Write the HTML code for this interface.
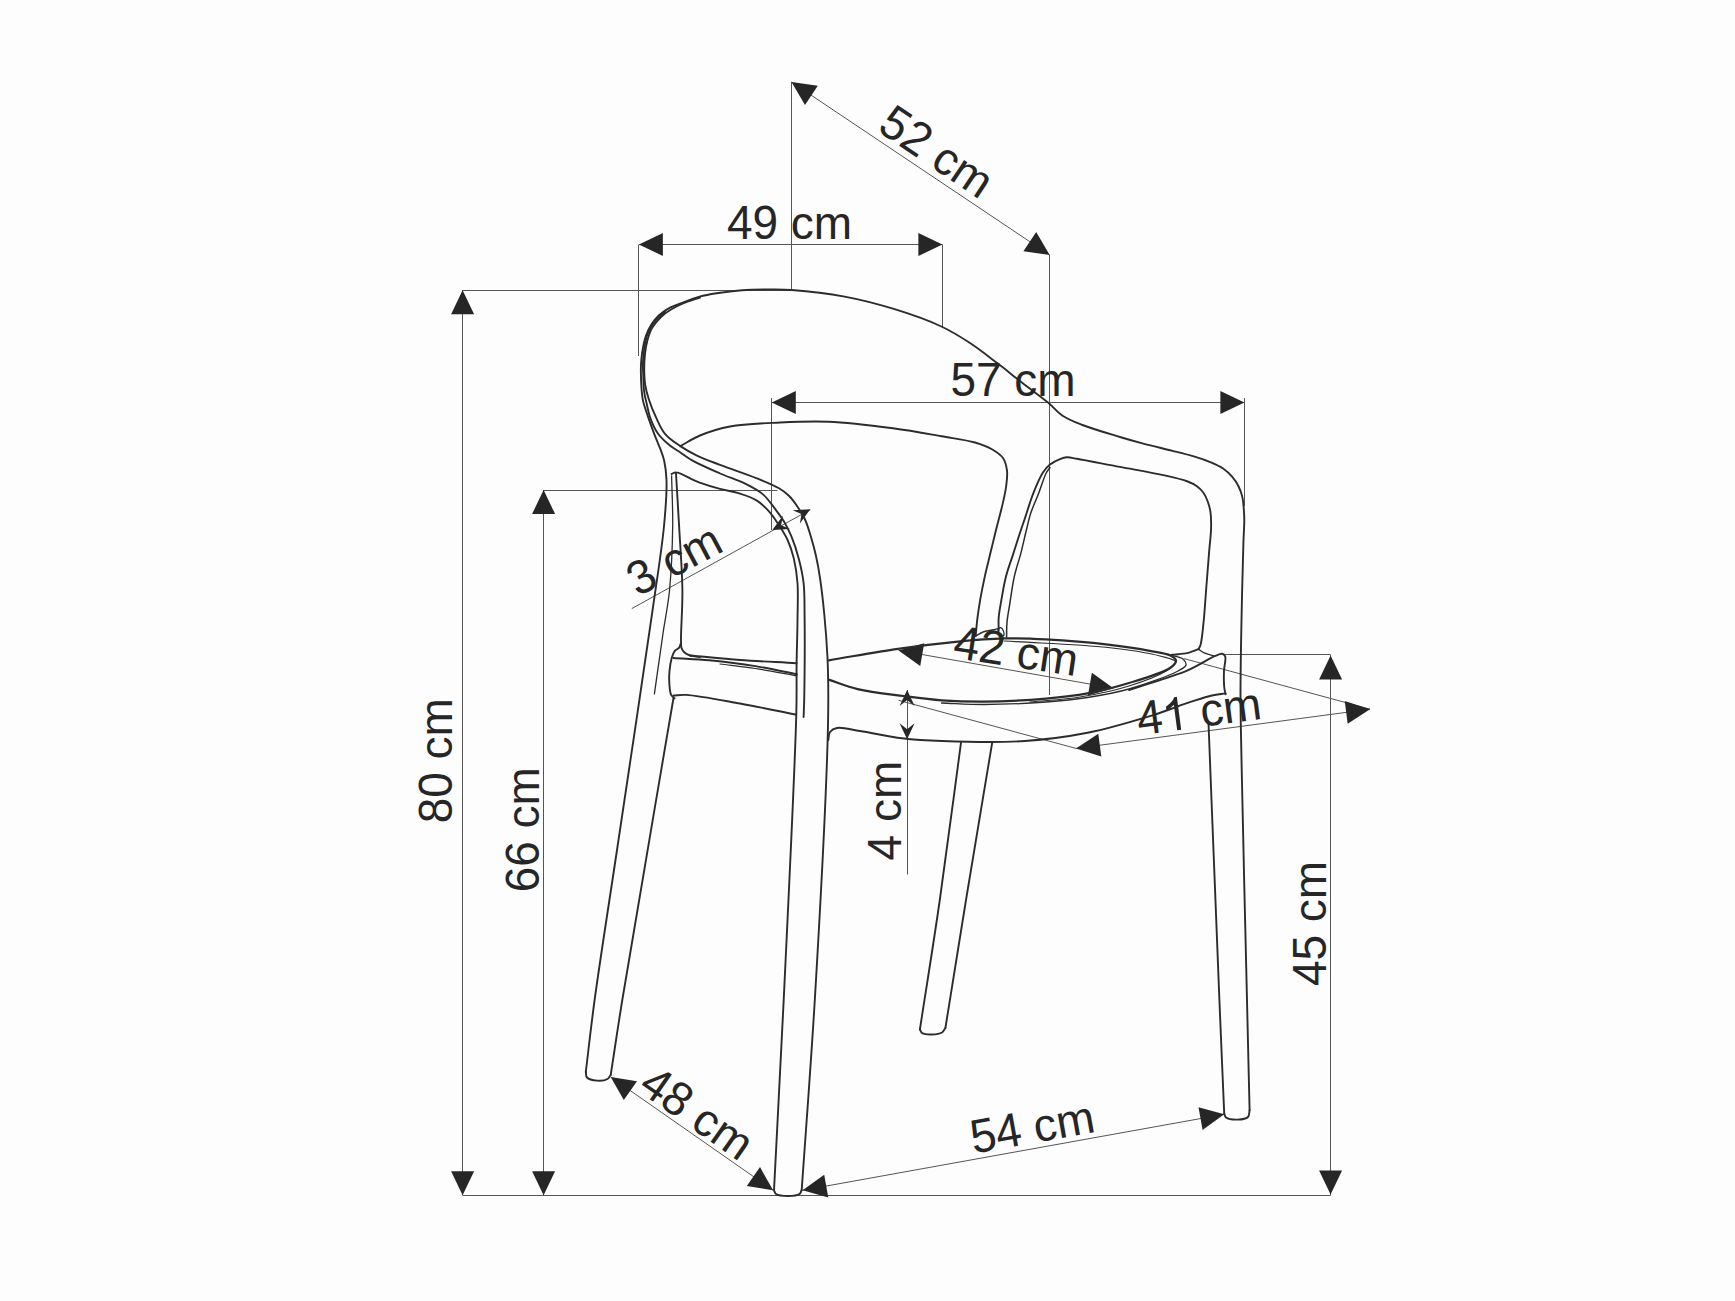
<!DOCTYPE html>
<html><head><meta charset="utf-8"><style>
html,body{margin:0;padding:0;background:#fdfdfd;}
svg{display:block;}
text{font-family:"Liberation Sans",sans-serif;fill:#262626;}
</style></head><body>
<svg width="1735" height="1301" viewBox="0 0 1735 1301">
<rect width="1735" height="1301" fill="#fdfdfd"/>
<line x1="791.5" y1="82" x2="791.5" y2="290" stroke="#555555" stroke-width="1.0"/>
<line x1="1049.5" y1="255" x2="1049.5" y2="695" stroke="#555555" stroke-width="1.0"/>
<line x1="791.5" y1="82" x2="1049.7" y2="255" stroke="#555555" stroke-width="1.0"/>
<path d="M791.5 82 L817.8 85.8 L805 104.9Z" fill="#262626"/>
<path d="M1049.7 255 L1023.4 251.2 L1036.2 232.1Z" fill="#262626"/>
<line x1="638.9" y1="244.5" x2="942.4" y2="244.5" stroke="#555555" stroke-width="1.0"/>
<line x1="638.5" y1="244.5" x2="638.5" y2="356" stroke="#555555" stroke-width="1.0"/>
<line x1="942.5" y1="244.5" x2="942.5" y2="327" stroke="#555555" stroke-width="1.0"/>
<path d="M638.9 244.5 L662.9 233 L662.9 256Z" fill="#262626"/>
<path d="M942.4 244.5 L918.4 256 L918.4 233Z" fill="#262626"/>
<line x1="771.8" y1="402.5" x2="1244.4" y2="402.5" stroke="#555555" stroke-width="1.0"/>
<line x1="771.5" y1="398" x2="771.5" y2="530" stroke="#555555" stroke-width="1.0"/>
<line x1="1244.5" y1="398" x2="1244.5" y2="506" stroke="#555555" stroke-width="1.0"/>
<path d="M771.8 402.4 L795.8 390.9 L795.8 413.9Z" fill="#262626"/>
<path d="M1244.4 402.4 L1220.4 413.9 L1220.4 390.9Z" fill="#262626"/>
<line x1="462.6" y1="290.5" x2="791.5" y2="290.5" stroke="#555555" stroke-width="1.0"/>
<line x1="462.5" y1="290.2" x2="462.5" y2="1195.2" stroke="#555555" stroke-width="1.0"/>
<path d="M462.6 290.2 L474.1 314.2 L451.1 314.2Z" fill="#262626"/>
<path d="M462.6 1195.2 L451.1 1171.2 L474.1 1171.2Z" fill="#262626"/>
<line x1="543.6" y1="490.5" x2="777.5" y2="490.5" stroke="#555555" stroke-width="1.0"/>
<line x1="543.5" y1="490" x2="543.5" y2="1195.2" stroke="#555555" stroke-width="1.0"/>
<path d="M543.6 490 L555.1 514 L532.1 514Z" fill="#262626"/>
<path d="M543.6 1195.2 L532.1 1171.2 L555.1 1171.2Z" fill="#262626"/>
<line x1="462.6" y1="1195.5" x2="1330.6" y2="1195.5" stroke="#555555" stroke-width="1.0"/>
<line x1="1223" y1="654.5" x2="1330.6" y2="654.5" stroke="#555555" stroke-width="1.0"/>
<line x1="1330.5" y1="655" x2="1330.5" y2="1195.2" stroke="#555555" stroke-width="1.0"/>
<path d="M1330.6 655.4 L1342.1 679.4 L1319.1 679.4Z" fill="#262626"/>
<path d="M1330.6 1194.5 L1319.1 1170.5 L1342.1 1170.5Z" fill="#262626"/>
<line x1="1184" y1="658.6" x2="1370" y2="709.2" stroke="#555555" stroke-width="1.0"/>
<line x1="1076" y1="748.4" x2="1370" y2="709.2" stroke="#555555" stroke-width="1.0"/>
<line x1="898.6" y1="700.3" x2="1076" y2="748.4" stroke="#555555" stroke-width="1.0"/>
<path d="M1370 709.2 L1347.7 723.8 L1344.7 701Z" fill="#262626"/>
<path d="M1076 748.4 L1098.3 733.8 L1101.3 756.6Z" fill="#262626"/>
<line x1="898.6" y1="650.4" x2="1113.5" y2="688.2" stroke="#555555" stroke-width="1.0"/>
<path d="M898.6 650.4 L924.2 643.2 L920.2 665.9Z" fill="#262626"/>
<path d="M1113.5 688.2 L1087.9 695.4 L1091.9 672.7Z" fill="#262626"/>
<line x1="907.5" y1="690" x2="907.5" y2="874.5" stroke="#555555" stroke-width="1.0"/>
<path d="M907.1 690.1 L914.6 706.1 L907.1 700.1 L899.6 706.1Z" fill="#262626"/>
<path d="M907.1 739.2 L899.6 723.2 L907.1 729.2 L914.6 723.2Z" fill="#262626"/>
<line x1="631.8" y1="608.6" x2="810.3" y2="509.7" stroke="#555555" stroke-width="1.0"/>
<path d="M772.3 530 L782.9 515.8 L781.1 525.3 L789.9 529.1Z" fill="#262626"/>
<path d="M810.3 509.2 L799.9 523.5 L801.5 514 L792.7 510.3Z" fill="#262626"/>
<line x1="610.7" y1="1076.9" x2="773.1" y2="1190.3" stroke="#555555" stroke-width="1.0"/>
<path d="M610.7 1076.9 L637 1081.2 L623.8 1100.1Z" fill="#262626"/>
<path d="M773.1 1190.3 L746.8 1186 L760 1167.1Z" fill="#262626"/>
<line x1="802.6" y1="1190.3" x2="1224.2" y2="1114.3" stroke="#555555" stroke-width="1.0"/>
<path d="M802.6 1190.3 L824.2 1174.7 L828.3 1197.4Z" fill="#262626"/>
<path d="M1224.2 1114.3 L1202.6 1129.9 L1198.5 1107.2Z" fill="#262626"/>
<path d="M585.8 1072 C588.7 1048 590.8 1028.3 594.6 1000 C600.2 959 609.8 898.3 617 850 C623.7 805 630.4 761 636.5 719.6 C642.1 682 647.5 645.9 652.3 612 C656.6 581.7 661.7 550.3 664 526 C665.7 508.3 666.9 492 666.5 480 C666.2 472.2 665.4 466.3 664.2 460.7 C663.2 456.3 661.9 453.3 660.4 449.2 C658.6 444.4 656.2 439.1 654.2 433.8 C652.1 428.3 650 422.6 648.1 416.9 C646.2 411.1 643.9 405.8 642.7 399.2 C641.3 391.4 641 380 640.9 372.8 C640.8 367.8 640.9 364.2 641.3 360 C641.7 355.8 642.2 351.6 643 347.4 C643.9 343.1 644.9 338.6 646.4 334.7 C647.8 331.1 649.3 327.8 651.4 324.6 C653.5 321.3 656 318.1 659 315.3 C662.2 312.4 666.1 309.8 670 307.7 C674 305.6 678.1 304.3 682.7 302.6 C687.9 300.6 693.9 298.3 699.6 296.7 C705.2 295.2 710.3 294.3 716.5 293.3 C724.1 292.1 733.1 290.9 742 290.3 C751.6 289.6 763.1 289.5 772 289.5 C779.2 289.5 783.5 289.4 791.6 290 C805 291 827.4 293.4 844.6 296.6 C861.2 299.7 877 303.8 893 308.7 C909.3 313.7 927.6 320 941.4 326.5 C952.4 331.7 960.7 336.9 970 343 C979.5 349.2 988.9 356.8 997.9 363.6 C1006.4 370.1 1014.2 376.6 1022.5 383 C1030.9 389.5 1040.7 396.5 1048 402.5 C1053.8 407.3 1057.4 412.3 1063 416 C1068.8 419.8 1074.8 422 1082.4 425 C1092.8 429 1109.1 433.7 1119.9 437 C1128.1 439.5 1133.6 441 1141.5 443.1 C1150.8 445.6 1162.8 448.4 1172.3 450.8 C1180.6 452.9 1188.5 454.8 1195.4 456.9 C1201.1 458.6 1206 460.3 1210.8 462.3 C1215.2 464.2 1219.4 466 1223.1 468.5 C1226.6 470.9 1229.7 473.9 1232.3 476.9 C1234.8 479.8 1236.8 482.9 1238.5 486.2 C1240.2 489.5 1241.4 493.2 1242.3 496.9 C1243.2 500.8 1243.5 505.2 1243.8 509.2 C1244.1 512.9 1244.3 515.7 1244.3 520 C1244.3 526.3 1243.7 533.2 1243.4 543.1 C1242.8 561.2 1242 594.5 1241.5 620 C1241 645.2 1240.5 670.9 1240.5 695 C1240.5 717.4 1241 731.5 1241.5 760 C1242.5 814.8 1245.5 935.4 1247 1000 C1248 1043.7 1248.7 1073.3 1249.6 1110" fill="none" stroke="#2c2c2c" stroke-width="1.9" stroke-linecap="round" stroke-linejoin="round"/>
<path d="M585.8 1072 C586.2 1073.8 585.7 1076.1 587 1077.5 C588.7 1079.4 593.6 1080.3 597 1080.6 C600.4 1080.9 605.2 1080.4 607.5 1079 C609.1 1078.1 609.6 1076.3 610.7 1075" fill="none" stroke="#2c2c2c" stroke-width="1.9" stroke-linecap="round" stroke-linejoin="round"/>
<path d="M610.7 1075 C614.6 1050 616.9 1033.3 622.3 1000 C633.2 933 656.4 798.7 673.5 698" fill="none" stroke="#2c2c2c" stroke-width="1.9" stroke-linecap="round" stroke-linejoin="round"/>
<path d="M665 312 C661.7 315 657.8 317.5 655 321 C652.1 324.5 649.7 328.7 648 333 C646.2 337.4 645.3 342.2 644.5 347 C643.7 351.9 643.2 357.1 643 362 C642.8 366.7 643.1 371.2 643.3 376 C643.5 381.2 643.5 387 644.2 392 C644.8 396.6 646 400.6 647 405 C648 409.4 648.7 413.9 650.4 418.4 C652.3 423.5 654.8 429.3 658.1 433.8 C661.3 438.2 665.6 442 669.6 445.3 C673.3 448.3 677.3 450.4 681.1 453 C684.9 455.6 687.8 458 692.6 460.7 C699.7 464.7 711.1 469.6 720 473.5 C728.4 477.1 737.1 479.7 744.6 483.4 C751.3 486.7 757.8 489.9 763 494.4 C767.9 498.6 771.6 504.4 775.3 509.2 C778.5 513.4 781.4 517.1 784 521.5 C786.7 526.1 789 530.7 791.3 536.2 C794 542.8 796.7 550.7 798.7 558.4 C800.8 566.3 802.6 574.1 803.6 583 C804.8 593.5 804.4 603.6 804.6 617.6 C804.9 639.2 804.5 682.8 804.2 700 C804 707.8 803.8 711.3 803.6 717" fill="none" stroke="#2c2c2c" stroke-width="1.9" stroke-linecap="round" stroke-linejoin="round"/>
<path d="M700 297.5 C694.3 299.5 688.1 301.3 683 303.5 C678.6 305.4 674.7 307.2 671 309.5 C667.4 311.7 664.1 314 661 317 C657.7 320.2 654.3 324.1 652 328 C649.8 331.7 648.7 335.8 647.5 340 C646.3 344.4 645.5 349.3 645 354 C644.5 358.7 644.2 363.1 644.2 368 C644.2 373.4 644.4 379.6 645.2 385 C646 390 647.2 394.2 648.8 399.2 C650.7 405.2 653.7 412.4 656.5 418.4 C659.1 423.9 661.2 429.3 665 433.8 C669 438.6 675 442.5 680.3 446.1 C685.5 449.6 690.5 452.4 696.5 455.3 C703.5 458.7 711.3 461.5 720 464.9 C730.9 469.1 746.2 474.1 756.9 478.4 C765.3 481.8 773.2 484.9 779 488.3 C783.1 490.7 785.9 492.8 788.9 495.7 C792.1 498.8 794.9 502.8 797.5 506.7 C800.2 510.6 802.7 514.4 804.8 519 C807.3 524.3 809.1 530.9 811 537 C812.9 543.2 814.5 549.4 816 556 C817.6 563 818.8 569.7 820 578 C821.6 588.6 823.1 601.9 824.3 614.5 C825.6 627.9 826.7 642.2 827.4 656 C828.1 669.8 828.3 682.3 828.3 697.5 C828.3 716.2 828 732.4 827 760 C825.1 814.1 819.3 924.7 814.8 1000 C810.8 1067 806.1 1126.7 801.7 1190" fill="none" stroke="#2c2c2c" stroke-width="1.9" stroke-linecap="round" stroke-linejoin="round"/>
<path d="M774 1190.3 C774.7 1191.5 774.7 1193.1 776 1194 C778.2 1195.6 784 1196 787.9 1196 C791.8 1196 797.3 1195.6 799.5 1194 C800.9 1193 801 1191.3 801.7 1190" fill="none" stroke="#2c2c2c" stroke-width="1.9" stroke-linecap="round" stroke-linejoin="round"/>
<path d="M671.6 474 C673.1 473.5 674 472.3 676 472.4 C680.7 472.5 691.4 479.6 699 482.4 C706.1 485 713.2 487.1 720 488.9 C726.3 490.6 732.3 491.3 738.4 493.2 C744.6 495.2 751.6 497.3 756.9 500.6 C761.7 503.6 765.5 507.5 769.2 511.6 C772.9 515.7 775.9 520.5 779 525.2 C782.1 530 785.2 534.7 787.6 540 C790.2 545.7 792.2 551.7 793.8 558.4 C795.6 565.9 796.8 573.9 797.5 583 C798.3 594.1 797.6 607.1 797.5 620 C797.4 634 796.8 648.9 796.6 664 C796.4 680.1 796.9 690.4 796.3 713.8 C794.9 770 787.8 914.3 783.7 1000 C780.4 1069.9 777.2 1126.9 774 1190.3" fill="none" stroke="#2c2c2c" stroke-width="1.9" stroke-linecap="round" stroke-linejoin="round"/>
<path d="M676 473.3 C677 490.9 678.1 507.5 679.1 526 C680.2 546.4 682.2 570.4 682.4 590.5 C682.6 608.1 680.8 630.5 681 640 C681.1 643.8 680.8 645.8 681.5 648 C682.1 649.8 683.2 651.3 684.5 652.5 C685.9 653.8 687.8 654.8 690 655.5 C692.8 656.4 696.7 656.5 700 657" fill="none" stroke="#2c2c2c" stroke-width="1.9" stroke-linecap="round" stroke-linejoin="round"/>
<path d="M671.6 476 C672 492.7 672.9 508.3 672.7 526 C672.4 546.1 671.4 571.2 669.5 590.5 C667.9 606.3 665.3 618 663 633.5 C660.3 651.9 657.3 673.7 654.4 693.8" fill="none" stroke="#2c2c2c" stroke-width="1.3" stroke-linecap="round" stroke-linejoin="round"/>
<path d="M680.5 644 C680.1 645.2 680 646.6 679.2 647.7 C678.2 649 675.8 649.6 674.6 651.1 C673.2 652.9 672.5 655.2 671.7 658 C670.6 661.8 669.8 667.4 669.4 671.9 C669 676.2 669.1 680.6 669.4 684.6 C669.7 688.2 669.9 692.5 671.1 694.9 C672 696.6 673.4 697.2 674.6 698.4" fill="none" stroke="#2c2c2c" stroke-width="1.9" stroke-linecap="round" stroke-linejoin="round"/>
<path d="M690 655.5 C706.7 657 722.8 658.7 740 660 C758.3 661.3 777.7 662.1 796.6 663.2" fill="none" stroke="#2c2c2c" stroke-width="1.9" stroke-linecap="round" stroke-linejoin="round"/>
<path d="M673.4 658 C685.3 658.8 696.5 659.1 709.2 660.3 C723.6 661.7 740.4 663.7 755.3 666.1 C769.5 668.4 783 671.5 796.8 674.2" fill="none" stroke="#2c2c2c" stroke-width="1.9" stroke-linecap="round" stroke-linejoin="round"/>
<path d="M720 664 C731.8 665.5 743.1 666.6 755.3 668.5 C768.6 670.5 783 673.4 796.8 675.8" fill="none" stroke="#2c2c2c" stroke-width="1.2" stroke-linecap="round" stroke-linejoin="round"/>
<path d="M673.4 695.5 C677.6 695.3 680.4 694.6 686.1 694.9 C697.9 695.6 721.9 700.3 740 703.5 C758.4 706.8 777.1 710.8 795.6 714.5" fill="none" stroke="#2c2c2c" stroke-width="1.9" stroke-linecap="round" stroke-linejoin="round"/>
<path d="M680.3 446.1 C686.9 442.6 692.6 438.6 700 435.5 C708.8 431.9 718.6 428.6 730 426.5 C744.4 423.8 763.5 423.3 780 422.5 C796.3 421.7 811.1 421 828.4 421.7 C848.4 422.5 873.1 425.6 893 428.2 C910.3 430.5 926.7 433.6 941.4 436.2 C953.6 438.4 965.8 439.8 975 442.5 C981.8 444.5 987.4 446.6 992.3 449.5 C996.5 451.9 1000.5 454.5 1003 458 C1005.4 461.5 1006.4 466.1 1007 470.5 C1007.6 475.3 1006.9 480.6 1006.2 486 C1005.4 492.1 1003.9 498.6 1002.3 505.4 C1000.5 513.1 998 521.9 996 530 C994.1 537.8 992.3 545.4 990.4 553.1 C988.6 560.8 986.6 568.4 984.9 576.1 C983.2 583.8 981.6 591.9 980.3 599.2 C979.2 605.7 978.3 611.5 977.5 617.6 C976.7 623.7 976.3 629.9 975.7 636" fill="none" stroke="#2c2c2c" stroke-width="1.9" stroke-linecap="round" stroke-linejoin="round"/>
<path d="M975.7 636 C978.1 634.7 980.4 633 983 632 C985.8 631 989.2 630.6 992 630 C994.4 629.5 996.5 629 998.7 628.5" fill="none" stroke="#2c2c2c" stroke-width="1.4" stroke-linecap="round" stroke-linejoin="round"/>
<ellipse cx="1001" cy="632" rx="2.6" ry="4.5" transform="rotate(-20 1001 632)" fill="none" stroke="#2c2c2c" stroke-width="1.3"/>
<path d="M998.7 631 C998.7 626.5 998.3 622.4 998.7 617.6 C999.1 611.9 1000.4 605.7 1001.5 599.2 C1002.8 591.9 1004.1 583.7 1006.1 576.1 C1008.1 568.4 1011 560.8 1013.5 553.1 C1016 545.4 1018.7 536.6 1020.9 530 C1022.6 525 1023.7 521.9 1025.4 516.9 C1027.6 510.3 1030.1 501.3 1033.1 493.8 C1036 486.4 1039.7 477.5 1043.1 472.3 C1045.4 468.9 1047.3 466.8 1050 464.6 C1052.9 462.3 1056.9 460.4 1060 459.2 C1062.5 458.2 1064.4 457.5 1066.9 457.3 C1069.9 457.1 1072.4 458 1076.9 458.8 C1086.2 460.4 1105.4 464.2 1119.9 466.9 C1134.7 469.7 1152.2 472.6 1164.6 475.4 C1173.6 477.4 1181.8 479.3 1187.7 481.5 C1191.6 483 1194.3 484.3 1196.9 486.2 C1199.3 487.9 1201.3 489.9 1203.1 492.3 C1205 494.9 1206.5 498.2 1207.7 501.5 C1209 504.9 1209.9 508.3 1210.5 512.3 C1211.2 516.9 1211.2 522.1 1211.1 527.7 C1211 534.6 1209.9 542.3 1209.2 550.8 C1208.4 561.1 1207.4 573.5 1206.5 585 C1205.6 596.6 1204.7 610.3 1203.8 620 C1203.1 627 1202.5 633.4 1201.8 638 C1201.4 640.9 1201.1 643 1200.5 645 C1200 646.6 1199.2 647.8 1198.5 649.2" fill="none" stroke="#2c2c2c" stroke-width="1.9" stroke-linecap="round" stroke-linejoin="round"/>
<path d="M1198.5 649.2 C1195.4 650.3 1192.5 651.8 1189.2 652.6 C1185.7 653.5 1181.3 653.8 1178.2 654.2 C1175.8 654.5 1174.1 654.6 1172 654.8" fill="none" stroke="#2c2c2c" stroke-width="1.9" stroke-linecap="round" stroke-linejoin="round"/>
<path d="M1198.5 649.2 C1200.2 650.3 1201.7 651.7 1203.6 652.6 C1205.8 653.7 1209.2 654.4 1211.2 655.1 C1212.6 655.5 1213.5 655.8 1214.6 656.2" fill="none" stroke="#2c2c2c" stroke-width="1.4" stroke-linecap="round" stroke-linejoin="round"/>
<path d="M1006.6 637 C1006.7 632.1 1006.5 627.5 1007 622.3 C1007.5 616.5 1008.7 610.6 1009.8 603.8 C1011.1 595.5 1012.4 584.9 1014.4 576.1 C1016.2 568 1018.9 560.8 1020.9 553.1 C1022.9 545.4 1024.6 537.1 1026.4 530 C1027.9 523.9 1028.9 518.8 1030.8 513 C1032.9 506.7 1036 500.3 1038.5 493.8 C1041.1 487 1043.8 477.6 1046.2 473 C1047.5 470.5 1048.7 469.3 1050 467.5" fill="none" stroke="#2c2c2c" stroke-width="1.5" stroke-linecap="round" stroke-linejoin="round"/>
<path d="M828.8 660.3 C851.9 656.5 876 652 898 648.8 C918 645.9 937.2 643.6 955.6 641.8 C972.5 640.2 988.9 638.8 1004.5 638.4 C1018.9 638.1 1030.8 638.6 1046 639.4 C1064.6 640.4 1089.4 642.4 1108 644.6 C1123.3 646.4 1138.3 648.6 1149.8 650.8 C1157.9 652.3 1166 653.1 1170.5 655.5 C1173.2 656.9 1175.8 658.6 1176 660.5 C1176.2 662.7 1173.4 665.5 1170 668 C1162.7 673.2 1142.8 678.8 1129 683 C1115.3 687.2 1101.4 690.8 1087.5 693.4 C1073.7 696 1061.3 697.3 1046 698.6 C1027.4 700.2 1002.5 701.5 983.8 701.7 C968.3 701.8 955.2 701.3 941.5 700.3 C928.5 699.3 916.9 697.7 903.7 696 C889.1 694.1 871 692.3 857.6 689.1 C846.9 686.6 838.8 683 829.4 679.9" fill="none" stroke="#2c2c2c" stroke-width="2.2" stroke-linecap="round" stroke-linejoin="round"/>
<path d="M1004.5 641 C1039 643.2 1079.4 644.3 1108 647.5 C1128.4 649.8 1147.7 652.7 1160 656 C1167 657.9 1175.5 659.3 1176 662 C1176.5 664.4 1170.7 668 1166 671 C1157.8 676.1 1142.4 681.8 1129 686 C1114 690.7 1096.5 694.3 1080 697 C1063.5 699.7 1046.7 700.3 1030 702" fill="none" stroke="#2c2c2c" stroke-width="1.2" stroke-linecap="round" stroke-linejoin="round"/>
<path d="M1170.5 655 C1174.7 656.3 1180.4 656.8 1183 659 C1184.8 660.6 1186.4 663.2 1186 665 C1185.5 667.2 1182 668.8 1178 671 C1168.8 676 1144.8 684.5 1129 689 C1114.7 693.1 1101.4 695.3 1087.5 697.5 C1073.7 699.7 1061.2 700.9 1046 702 C1027.4 703.4 1002.5 704.5 983.8 704.5 C968.3 704.5 955.6 703.5 941.5 703" fill="none" stroke="#2c2c2c" stroke-width="1.3" stroke-linecap="round" stroke-linejoin="round"/>
<path d="M1129 690 C1148.3 683.5 1171.4 677.2 1187 670.6 C1198.1 665.9 1208.2 658.9 1214.6 656.2 C1217.8 654.9 1220.3 653.4 1222.2 653.8 C1223.5 654.1 1224.6 655 1225.2 656.4 C1226.3 659.1 1224.2 665.7 1224 670.7 C1223.8 676.1 1223.8 683.3 1224.3 687.7 C1224.6 690.5 1225.2 692.2 1225.6 694.4" fill="none" stroke="#2c2c2c" stroke-width="1.9" stroke-linecap="round" stroke-linejoin="round"/>
<path d="M828.3 740 C828.9 737.3 828.5 734 830 732 C831.5 730 833.9 728.6 837 728 C842.3 726.9 851.2 729.7 860 731 C871.9 732.8 888.1 736.6 902 738.3 C915.5 739.9 926.5 740.5 942.3 741 C965 741.8 999.4 742.7 1025 741 C1047.3 739.5 1066.8 736.9 1087.5 732.8 C1108.4 728.7 1131.2 721.9 1149.8 716.2 C1165.1 711.5 1179.8 705.4 1191.3 701.7 C1199.4 699.1 1205.8 696.9 1212 695.5 C1216.9 694.4 1221 694.1 1225.5 693.4" fill="none" stroke="#2c2c2c" stroke-width="1.9" stroke-linecap="round" stroke-linejoin="round"/>
<path d="M961 742.6 C953.9 795.1 947 850.1 939.8 900 C933.3 945.3 926.5 986.3 919.9 1029.5" fill="none" stroke="#2c2c2c" stroke-width="1.9" stroke-linecap="round" stroke-linejoin="round"/>
<path d="M992.2 742.6 C983.5 795.1 974.1 850.2 966 900 C958.7 944.9 952.3 985.3 945.4 1028" fill="none" stroke="#2c2c2c" stroke-width="1.9" stroke-linecap="round" stroke-linejoin="round"/>
<path d="M919.9 1029.5 C920.6 1030.7 920.8 1032.2 922 1033 C924 1034.3 928.6 1034.6 931.9 1034.5 C935.3 1034.4 939.7 1033.9 942 1032.5 C943.7 1031.4 944.3 1029.5 945.4 1028" fill="none" stroke="#2c2c2c" stroke-width="1.9" stroke-linecap="round" stroke-linejoin="round"/>
<path d="M1208.5 723 C1212.1 815.3 1216.5 927.9 1219.4 1000 C1221.3 1046.1 1222.6 1075.6 1224.2 1113.4" fill="none" stroke="#2c2c2c" stroke-width="1.9" stroke-linecap="round" stroke-linejoin="round"/>
<path d="M1224.2 1113.4 C1224.8 1114.8 1224.7 1116.5 1226 1117.5 C1228.1 1119.1 1233.9 1119.7 1237.6 1119.6 C1241.2 1119.5 1246.1 1119 1248 1117 C1249.6 1115.4 1249.1 1112.3 1249.6 1110" fill="none" stroke="#2c2c2c" stroke-width="1.9" stroke-linecap="round" stroke-linejoin="round"/>
<g transform="translate(789.5 238.7) rotate(0)">
<text x="-62.6" y="0" font-size="46" transform="scale(1 1.04)">49</text>
<text x="1.3" y="0" font-size="46">cm</text>
</g>
<g transform="translate(1013 396) rotate(0)">
<text x="-62.6" y="0" font-size="46" transform="scale(1 1.04)">57</text>
<text x="1.3" y="0" font-size="46">cm</text>
</g>
<g transform="translate(927.9 165) rotate(33.8)">
<text x="-62.6" y="0" font-size="46" transform="scale(1 1.04)">52</text>
<text x="1.3" y="0" font-size="46">cm</text>
</g>
<g transform="translate(451.6 760.7) rotate(-90)">
<text x="-62.6" y="0" font-size="46" transform="scale(1 1.04)">80</text>
<text x="1.3" y="0" font-size="46">cm</text>
</g>
<g transform="translate(539 829.7) rotate(-90)">
<text x="-62.6" y="0" font-size="46" transform="scale(1 1.04)">66</text>
<text x="1.3" y="0" font-size="46">cm</text>
</g>
<g transform="translate(1325.9 923.5) rotate(-90)">
<text x="-62.6" y="0" font-size="46" transform="scale(1 1.04)">45</text>
<text x="1.3" y="0" font-size="46">cm</text>
</g>
<g transform="translate(900.9 810.6) rotate(-90)">
<text x="-49.8" y="0" font-size="46" transform="scale(1 1.04)">4</text>
<text x="-11.5" y="0" font-size="46">cm</text>
</g>
<g transform="translate(688 1126) rotate(34.9)">
<text x="-62.6" y="0" font-size="46" transform="scale(1 1.04)">48</text>
<text x="1.3" y="0" font-size="46">cm</text>
</g>
<g transform="translate(1035 1142.7) rotate(-10.2)">
<text x="-62.6" y="0" font-size="46" transform="scale(1 1.04)">54</text>
<text x="1.3" y="0" font-size="46">cm</text>
</g>
<g transform="translate(1013.8 667) rotate(8.5)">
<text x="-62.6" y="0" font-size="46" transform="scale(1 1.04)">42</text>
<text x="1.3" y="0" font-size="46">cm</text>
</g>
<g transform="translate(1201 727) rotate(-7.6)">
<text x="-62.6" y="0" font-size="46" transform="scale(1 1.04)">4</text>
<path d="M763 0H583V1147Q518 1085 412.5 1023T223 930V1104Q374 1175 487 1276T647 1472H763Z" fill="#262626" transform="translate(-37.1 0) scale(0.02246 -0.02246)"/>
<text x="1.3" y="0" font-size="46">cm</text>
</g>
<g transform="translate(681.7 573.6) rotate(-28)">
<text x="-49.8" y="0" font-size="46" transform="scale(1 1.04)">3</text>
<text x="-11.5" y="0" font-size="46">cm</text>
</g>
</svg></body></html>
